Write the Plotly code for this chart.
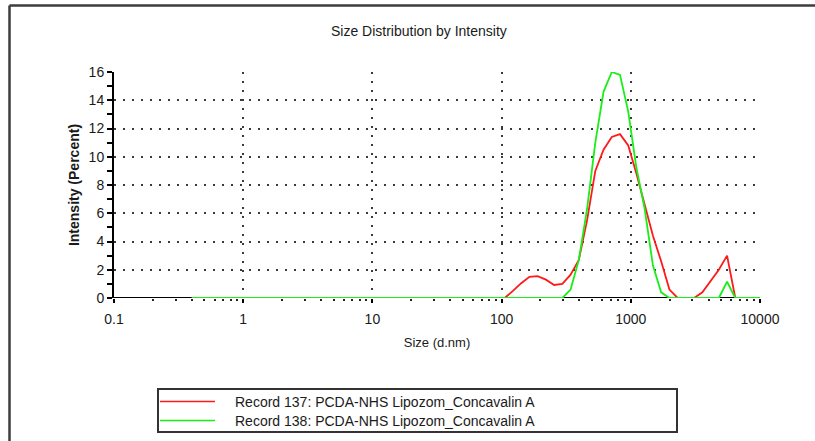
import plotly.graph_objects as go

# Size classes (d.nm) of the intensity distribution
sizes = [0.4000, 0.4632, 0.5365, 0.6213, 0.7195, 0.8332, 0.9649, 1.117, 1.294, 1.499,
         1.736, 2.010, 2.328, 2.696, 3.122, 3.615, 4.187, 4.849, 5.615, 6.503,
         7.531, 8.721, 10.10, 11.70, 13.54, 15.69, 18.17, 21.04, 24.36, 28.21,
         32.67, 37.84, 43.82, 50.75, 58.77, 68.06, 78.82, 91.28, 105.7, 122.4,
         141.8, 164.2, 190.1, 220.2, 255.0, 295.3, 342.0, 396.1, 458.7, 531.2,
         615.1, 712.4, 825.0, 955.4, 1106, 1281, 1484, 1718, 1990, 2305,
         2669, 3091, 3580, 4145, 4801, 5560, 6439, 7456, 8635, 10000]

# Intensity (%) per size class
record_137 = [0, 0, 0, 0, 0, 0, 0, 0, 0, 0,
              0, 0, 0, 0, 0, 0, 0, 0, 0, 0,
              0, 0, 0, 0, 0, 0, 0, 0, 0, 0,
              0, 0, 0, 0, 0, 0, 0, 0, 0, 0.5,
              1.05, 1.5, 1.55, 1.3, 0.92, 1.0, 1.65, 2.7, 5.5, 9.0,
              10.5, 11.4, 11.6, 10.8, 8.8, 6.6, 4.4, 2.6, 0.6, 0,
              0, 0, 0.4, 1.2, 2.0, 3.0, 0, 0, 0, 0]

record_138 = [0, 0, 0, 0, 0, 0, 0, 0, 0, 0,
              0, 0, 0, 0, 0, 0, 0, 0, 0, 0,
              0, 0, 0, 0, 0, 0, 0, 0, 0, 0,
              0, 0, 0, 0, 0, 0, 0, 0, 0, 0,
              0, 0, 0, 0, 0, 0, 0.6, 2.7, 6.3, 11.0,
              14.6, 16.0, 15.8, 13.2, 9.2, 6.3, 2.3, 0.4, 0, 0,
              0, 0, 0, 0, 0, 1.15, 0, 0, 0, 0]

series_names = ["Record 137: PCDA-NHS Lipozom_Concavalin A",
                "Record 138: PCDA-NHS Lipozom_Concavalin A"]
series_colors = ["#ff1a1a", "#1aee1a"]

x_tick_vals = [0.1, 1, 10, 100, 1000, 10000]
x_tick_text = ["0.1", "1", "10", "100", "1000", "10000"]
minor_x = [m * d for d in (0.1, 1, 10, 100, 1000) for m in range(2, 10)]

FONT = "Liberation Sans, Arial, sans-serif"
TXT = "#1a1a1a"

fig = go.Figure()
for vals, name, col in zip([record_137, record_138], series_names, series_colors):
    fig.add_trace(go.Scatter(x=sizes, y=vals, mode="lines", name=name,
                             line=dict(color=col, width=1.8), cliponaxis=False,
                             showlegend=False))

grid = dict(showgrid=True, gridcolor="#3a3a3a", gridwidth=2, griddash="2px,7px")

fig.update_layout(
    width=815, height=441,
    margin=dict(l=114, r=55, t=72, b=143),
    paper_bgcolor="white", plot_bgcolor="white",
    font=dict(family=FONT, size=14, color=TXT),
    title=dict(text="Size Distribution by Intensity", font=dict(size=14, color=TXT),
               x=0.514, xref="container", xanchor="center",
               y=1 - 31 / 441, yref="container", yanchor="middle"),
    xaxis=dict(type="log", range=[-1, 4], tickmode="array",
               tickvals=x_tick_vals, ticktext=x_tick_text,
               showline=False,
               ticks="outside", ticklen=4, tickwidth=1.5, tickcolor="black",
               ticklabelstandoff=4,
               minor=dict(tickmode="array", tickvals=minor_x, ticks="outside",
                          ticklen=2, tickwidth=1.5, tickcolor="#222", showgrid=False),
               title=dict(text="Size (d.nm)", standoff=12, font=dict(size=13)),
               tickfont=dict(size=14), zeroline=False, **grid),
    yaxis=dict(range=[0, 16], tick0=0, dtick=2,
               showline=True, linecolor="black", linewidth=2,
               ticks="outside", ticklen=5, tickwidth=1.5, tickcolor="black",
               minor=dict(dtick=1, ticks="outside", ticklen=5, tickwidth=1.5,
                          tickcolor="black", showgrid=False),
               title=dict(text="<b>Intensity (Percent)</b>", standoff=6,
                          font=dict(size=14)),
               tickfont=dict(size=14), zeroline=False, **grid),
    yaxis2=dict(range=[0, 16], tick0=0, dtick=1, overlaying="y", anchor="x",
                side="left", ticks="inside", ticklen=4, tickwidth=1.5,
                tickcolor="black", showticklabels=False, showgrid=False,
                showline=False, zeroline=False),
    xaxis2=dict(type="log", range=[-1, 4], tickmode="array", tickvals=x_tick_vals,
                overlaying="x", anchor="y", side="bottom", ticks="inside",
                ticklen=3, tickwidth=1.5, tickcolor="black", showticklabels=False,
                showgrid=False, showline=False, zeroline=False),
)

# Pixel helpers for decorations (plot area: x 114..760, y 72..298)
def px(xp):
    return (xp - 114) / 646

def py(yp):
    return (298 - yp) / 226

frame = dict(color="#3c3c3c", width=2.5)
shapes = [
    # x axis baseline at zero intensity, kept beneath the curves
    dict(type="line", xref="paper", yref="y", x0=-0.002, x1=1.0, y0=0, y1=0,
         line=dict(color="black", width=2), layer="below"),
    # outer frame: top and left edges (the rest runs off the page)
    dict(type="line", xref="paper", yref="paper", x0=px(9.5), x1=px(815),
         y0=py(5.5), y1=py(5.5), line=frame),
    dict(type="line", xref="paper", yref="paper", x0=px(9.5), x1=px(9.5),
         y0=py(5.5), y1=py(441), line=frame),
    # legend box
    dict(type="rect", xref="paper", yref="paper", x0=px(158), x1=px(677),
         y0=py(432), y1=py(389), line=dict(color="#333", width=2)),
]
annotations = []
for i, (name, col) in enumerate(zip(series_names, series_colors)):
    yl = 401.5 + i * 19
    shapes.append(dict(type="line", xref="paper", yref="paper", x0=px(160), x1=px(215),
                       y0=py(yl), y1=py(yl), line=dict(color=col, width=1.6)))
    annotations.append(dict(text=name, xref="paper", yref="paper", x=px(233), y=py(yl),
                            xanchor="left", yanchor="middle", showarrow=False,
                            font=dict(size=14, color=TXT)))
fig.update_layout(shapes=shapes, annotations=annotations)

fig.write_html("out.html")
